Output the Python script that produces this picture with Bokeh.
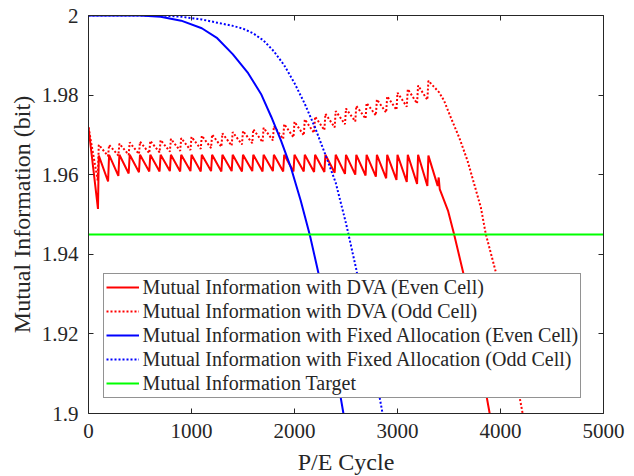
from bokeh.plotting import figure
from bokeh.models import Range1d, LinearAxis, FixedTicker, Legend, LegendItem, CustomJSTickFormatter
from bokeh.embed import file_html
from bokeh.resources import INLINE

# ---------------- data ----------------
dva_even_cycle = [0, 92, 100, 190, 200, 290, 300, 390, 400, 490, 500, 590, 600, 690, 700, 790,
                  800, 890, 900, 990, 1000, 1090, 1100, 1190, 1200, 1290, 1300, 1390, 1400, 1490,
                  1500, 1590, 1600, 1690, 1700, 1790, 1800, 1890, 1900, 1990, 2000, 2090, 2100,
                  2190, 2200, 2290, 2300, 2390, 2400, 2490, 2500, 2590, 2600, 2690, 2700, 2790,
                  2800, 2890, 2900, 2990, 3000, 3090, 3100, 3190, 3200, 3290, 3300, 3390, 3400,
                  3410, 3490, 3550, 3645, 3775, 3895, 3960]
dva_even_mi = [1.9719, 1.9514, 1.9648, 1.9583, 1.9650, 1.9597, 1.9650, 1.9603, 1.9650, 1.9606,
               1.9650, 1.9608, 1.9650, 1.9608, 1.9650, 1.9609, 1.9650, 1.9608, 1.9650, 1.9609,
               1.9650, 1.9608, 1.9650, 1.9609, 1.9650, 1.9608, 1.9650, 1.9609, 1.9650, 1.9608,
               1.9650, 1.9609, 1.9650, 1.9608, 1.9650, 1.9609, 1.9650, 1.9608, 1.9650, 1.9608,
               1.9650, 1.9608, 1.9650, 1.9607, 1.9650, 1.9607, 1.9650, 1.9605, 1.9650, 1.9602,
               1.9650, 1.9600, 1.9650, 1.9598, 1.9650, 1.9595, 1.9650, 1.9591, 1.9650, 1.9587,
               1.9650, 1.9582, 1.9650, 1.9577, 1.9650, 1.9572, 1.9648, 1.9572, 1.9593,
               1.9564, 1.9510, 1.9450, 1.9346, 1.9172, 1.9000, 1.8900]

dva_odd_cycle = [0, 90, 100, 190, 200, 290, 300, 390, 400, 490, 500, 590, 600, 690, 700, 790,
                 800, 890, 900, 990, 1000, 1090, 1100, 1190, 1200, 1290, 1300, 1390, 1400, 1490,
                 1500, 1590, 1600, 1690, 1700, 1790, 1800, 1890, 1900, 1990, 2000, 2090, 2100,
                 2190, 2200, 2290, 2300, 2390, 2400, 2490, 2500, 2590, 2600, 2690, 2700, 2790,
                 2800, 2890, 2900, 2990, 3000, 3090, 3100, 3190, 3200, 3290, 3300, 3350, 3404,
                 3452, 3517, 3598, 3680, 3744, 3809, 3857, 3960, 4090, 4215, 4260]
dva_odd_mi = [1.9719, 1.9585, 1.9675, 1.9647, 1.9675, 1.9648, 1.9678, 1.9650, 1.9681, 1.9652,
              1.9683, 1.9654, 1.9685, 1.9656, 1.9687, 1.9658, 1.9690, 1.9660, 1.9692, 1.9662,
              1.9695, 1.9665, 1.9698, 1.9667, 1.9701, 1.9670, 1.9704, 1.9673, 1.9707, 1.9676,
              1.9710, 1.9679, 1.9714, 1.9682, 1.9718, 1.9686, 1.9722, 1.9690, 1.9727, 1.9694,
              1.9733, 1.9699, 1.9739, 1.9705, 1.9746, 1.9712, 1.9753, 1.9719, 1.9760, 1.9727,
              1.9766, 1.9734, 1.9773, 1.9741, 1.9780, 1.9749, 1.9789, 1.9756, 1.9797, 1.9763,
              1.9806, 1.9771, 1.9815, 1.9779, 1.9824, 1.9788, 1.9836, 1.9822, 1.9807,
              1.9786, 1.9744, 1.9694, 1.9635, 1.9577, 1.9518, 1.9451, 1.9350, 1.9174, 1.9000, 1.8930]

fixed_even_cycle = [0, 300, 500, 700, 900, 1100, 1250, 1400, 1550, 1675, 1775, 1870, 1965,
                    2060, 2150, 2235, 2350, 2475, 2530]
fixed_even_mi = [2.0, 2.0, 2.0, 1.9997, 1.9987, 1.9968, 1.9943, 1.9903, 1.9855, 1.9803, 1.9745,
                 1.9685, 1.9618, 1.9535, 1.9447, 1.9350, 1.9190, 1.9000, 1.8920]

fixed_odd_cycle = [0, 700, 900, 1100, 1250, 1400, 1500, 1600, 1700, 1800, 1900, 2000, 2100,
                   2200, 2300, 2400, 2500, 2600, 2700, 2800, 2855, 2900]
fixed_odd_mi = [2.0, 2.0, 1.9997, 1.9990, 1.9982, 1.9974, 1.9967, 1.9955, 1.9937, 1.9910, 1.9875,
                1.9830, 1.9778, 1.9718, 1.9650, 1.9580, 1.9478, 1.9362, 1.9225, 1.9078, 1.9000,
                1.8935]

target_cycle = [0, 5000]
target_mi = [1.945, 1.945]

x_tick_values = [0, 1000, 2000, 3000, 4000, 5000]
x_tick_labels = ["0", "1000", "2000", "3000", "4000", "5000"]
y_tick_values = [1.9, 1.92, 1.94, 1.96, 1.98, 2.0]
y_tick_labels = ["1.9", "1.92", "1.94", "1.96", "1.98", "2"]

legend_labels = ["Mutual Information with DVA (Even Cell)",
                 "Mutual Information with DVA (Odd Cell)",
                 "Mutual Information with Fixed Allocation (Even Cell)",
                 "Mutual Information with Fixed Allocation (Odd Cell)",
                 "Mutual Information Target"]

# ---------------- figure ----------------
FONT = "Liberation Serif"
AX = "#262626"

p = figure(frame_width=515, frame_height=398,
           x_range=Range1d(0, 5000), y_range=Range1d(1.9, 2.0),
           output_backend="svg", toolbar_location=None,
           min_border_left=88, min_border_right=23, min_border_top=15, min_border_bottom=55)
p.grid.visible = False
p.outline_line_color = None
p.background_fill_color = "white"
p.border_fill_color = "white"

def style_axis(ax):
    ax.axis_line_color = AX
    ax.axis_line_width = 1
    ax.major_tick_line_color = AX
    ax.major_tick_in = 5
    ax.major_tick_out = 0
    ax.minor_tick_line_color = None
    ax.major_label_text_font = FONT
    ax.major_label_text_font_size = "21px"
    ax.major_label_text_color = AX
    ax.axis_label_text_font = FONT
    ax.axis_label_text_font_size = "24px"
    ax.axis_label_text_font_style = "normal"
    ax.axis_label_text_color = AX

xax = p.xaxis[0]
yax = p.yaxis[0]
style_axis(xax)
style_axis(yax)
xax.ticker = FixedTicker(ticks=x_tick_values)
yax.ticker = FixedTicker(ticks=y_tick_values)
xax.major_label_overrides = dict(zip(x_tick_values, x_tick_labels))
yax.major_label_overrides = dict(zip(y_tick_values, y_tick_labels))
xax.axis_label = "P/E Cycle"
yax.axis_label = "Mutual Information (bit)"
xax.major_label_standoff = 10
yax.major_label_standoff = 10
xax.axis_label_standoff = 8
yax.axis_label_standoff = 4

blank = CustomJSTickFormatter(code="return ''")
top = LinearAxis(ticker=FixedTicker(ticks=x_tick_values), formatter=blank)
right = LinearAxis(ticker=FixedTicker(ticks=y_tick_values), formatter=blank)
for ax in (top, right):
    style_axis(ax)
    ax.major_label_standoff = 0
p.add_layout(top, "above")
p.add_layout(right, "right")

r1 = p.line(dva_even_cycle, dva_even_mi, line_color="#FF0000", line_width=2)
r2 = p.line(dva_odd_cycle, dva_odd_mi, line_color="#FF0000", line_width=2, line_dash="2 2")
r3 = p.line(fixed_even_cycle, fixed_even_mi, line_color="#0000FF", line_width=2)
r4 = p.line(fixed_odd_cycle, fixed_odd_mi, line_color="#0000FF", line_width=2, line_dash="2 2")
r5 = p.line(target_cycle, target_mi, line_color="#00FF00", line_width=2)

legend = Legend(items=[LegendItem(label=l, renderers=[r]) for l, r in
                       zip(legend_labels, [r1, r2, r3, r4, r5])],
                location=(14.6, 15.5))
legend.margin = 0
legend.padding = 2
legend.spacing = 1
legend.glyph_width = 33
legend.glyph_height = 20
legend.label_height = 20
legend.label_standoff = 4
legend.label_text_font = FONT
legend.label_text_font_size = "20px"
legend.label_text_color = AX
legend.border_line_color = AX
legend.border_line_width = 1
legend.background_fill_color = "white"
legend.background_fill_alpha = 1
p.add_layout(legend)

open("out.html", "w").write(file_html(p, INLINE))
